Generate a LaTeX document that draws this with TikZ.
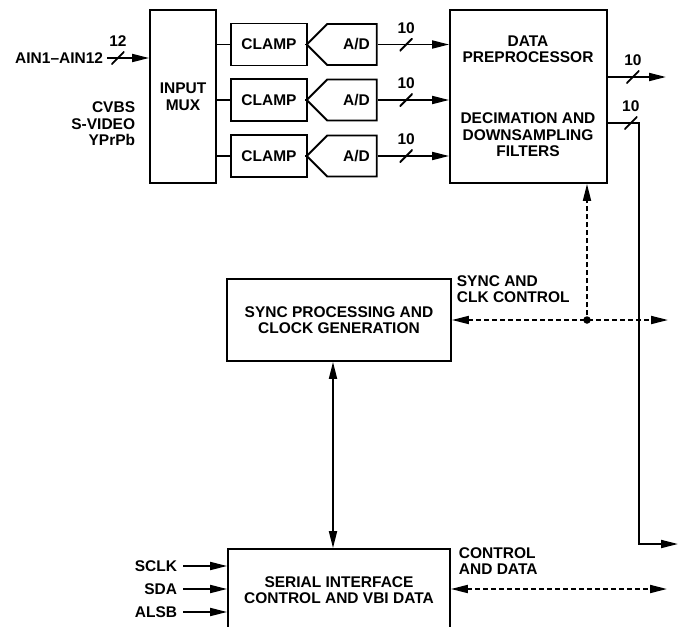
\documentclass[tikz,border=0pt]{standalone}
\usepackage{fontspec}
\setmainfont{Liberation Sans}
\usetikzlibrary{positioning,arrows.meta,shapes.symbols,calc}

\begin{document}
\begin{tikzpicture}[x=1pt,y=-1pt,line width=1.8pt,
    every node/.style={font=\fontsize{15.5}{16.5}\selectfont\bfseries,align=center,inner sep=0pt}]
    \tikzstyle{blk}=[rectangle,draw];
    \tikzstyle{adc}=[signal,signal to=west,signal pointer angle=90,draw,minimum width=70pt,minimum height=41pt];
    \tikzstyle{slash}=[minimum size=13pt,path picture={\draw[-,solid] (path picture bounding box.south west) -- (path picture bounding box.north east);}];
    \tikzstyle{dashline}=[dash pattern=on 5pt off 3pt];
    \tikzstyle{arr}=[-{Triangle[length=17pt,width=8pt]}];
    \tikzstyle{darr}=[{Triangle[length=17pt,width=8pt]}-{Triangle[length=17pt,width=8pt]}];
    \useasboundingbox (0,0) rectangle (678,627);
    % input side
    \node[blk,minimum width=66pt,minimum height=173pt] (mux) at (183,96.5) {INPUT\\MUX};
    \node[anchor=east] (ain) at (104,58) {AIN1–AIN12};
    \node[anchor=east,align=right] (fmt) at (136,124) {CVBS\\S-VIDEO\\YPrPb};
    \node[blk,minimum width=76pt,minimum height=42pt] (clamp1) at (269,44.5) {CLAMP};
    \node[blk,minimum width=76pt,minimum height=42pt] (clamp2) at (269,100) {CLAMP};
    \node[blk,minimum width=76pt,minimum height=42pt] (clamp3) at (269,156) {CLAMP};
    \node[adc] (ad1) at (352,44.5) {\hspace*{9pt}A/D};
    \node[adc] (ad2) at (352,100) {\hspace*{9pt}A/D};
    \node[adc] (ad3) at (352,156) {\hspace*{9pt}A/D};
    \node[blk,minimum width=157pt,minimum height=173pt] (dp) at (528.5,96.5) {};
    \node (dptop) at (528,49) {DATA\\PREPROCESSOR};
    \node (dpbot) at (528,135) {DECIMATION AND\\DOWNSAMPLING\\FILTERS};
    % control side
    \node[blk,minimum width=224pt,minimum height=82pt] (sync) at (339,320) {SYNC PROCESSING AND\\CLOCK GENERATION};
    \node[blk,minimum width=222pt,minimum height=82pt] (serial) at (339,590) {SERIAL INTERFACE\\CONTROL AND VBI DATA};
    \node[anchor=west,align=left] (synclbl) at (456,289) {SYNC AND\\CLK CONTROL};
    \node[anchor=west,align=left] (ctrllbl) at (458,561) {CONTROL\\AND DATA};
    \node[anchor=east] (sclk) at (178,566) {SCLK};
    \node[anchor=east] (sda) at (178,589) {SDA};
    \node[anchor=east] (alsb) at (178,612) {ALSB};
    \node[circle,fill,minimum size=7.5pt] (tap) at (587,320) {};
    \coordinate (dataout) at (666,77);
    \coordinate (vidout) at (678,544);
    \coordinate (syncout) at (668,320);
    \coordinate (ctrlout) at (667,589);
    % connectors
    \draw[arr] ([xshift=3pt]ain.east) -- node[slash,pos=.26,label={[label distance=3pt]above:12}]{} (ain -| mux.west);
    \draw (mux.east |- clamp1) -- (clamp1.west);
    \draw (mux.east |- clamp2) -- (clamp2.west);
    \draw (mux.east |- clamp3) -- (clamp3.west);
    \draw (clamp1.east) -- (ad1.west);
    \draw (clamp2.east) -- (ad2.west);
    \draw (clamp3.east) -- (ad3.west);
    \draw[arr] (ad1.east) -- node[slash,pos=.4,label={[label distance=3pt]above:10}]{} (ad1.east -| dp.west);
    \draw[arr] (ad2.east) -- node[slash,pos=.4,label={[label distance=3pt]above:10}]{} (ad2.east -| dp.west);
    \draw[arr] (ad3.east) -- node[slash,pos=.4,label={[label distance=3pt]above:10}]{} (ad3.east -| dp.west);
    \draw[arr] (dataout -| dp.east) -- node[slash,pos=.43,label={[label distance=3pt]above:10}]{} (dataout);
    \draw[arr] ([yshift=-26.5pt]dp.east) -- node[slash,pos=.74,label={[label distance=3pt]above:10}]{} ++(31,0) |- (vidout);
    \draw[dashline,darr] (sync.east) -- (syncout);
    \draw[dashline,arr] (tap) -- (tap |- dp.south);
    \draw[darr] ([xshift=-6pt]sync.south) -- ([xshift=-6pt]serial.north);
    \draw[dashline,darr] (ctrlout -| serial.east) -- (ctrlout);
    \draw[arr] ([xshift=5pt]sclk.east) -- (sclk -| serial.west);
    \draw[arr] ([xshift=5pt]sda.east) -- (sda -| serial.west);
    \draw[arr] ([xshift=5pt]alsb.east) -- (alsb -| serial.west);
\end{tikzpicture}
\end{document}
